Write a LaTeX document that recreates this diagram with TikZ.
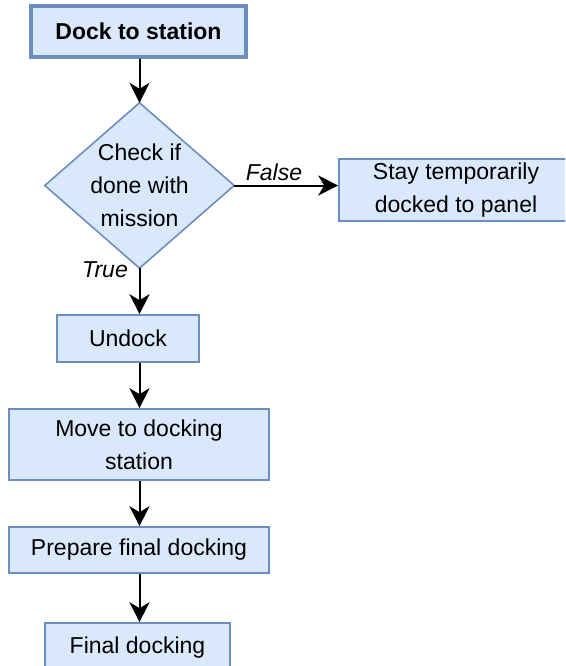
\documentclass[tikz,border=0pt]{standalone}
\usepackage{fontspec}
\setmainfont{Liberation Sans}
\usetikzlibrary{arrows.meta,backgrounds}
\definecolor{boxfill}{HTML}{DAE8FC}
\definecolor{boxline}{HTML}{6C8EBF}
\tikzset{
  box/.style={draw=boxline, fill=boxfill, line width=1.6pt, inner sep=0pt,
    align=center, font={\fontsize{23}{33}\selectfont}, text=black},
  startbox/.style={box, line width=3.2pt},
  flow/.style={line width=2pt, -{Stealth[length=20pt,width=20pt,inset=6pt]}},
  lbl/.style={font={\fontsize{23}{28}\selectfont\itshape}, inner sep=0pt}
}
\begin{document}
\begin{tikzpicture}[x=1pt,y=-1pt]
\useasboundingbox (0,0) rectangle (565,666);
\clip (0,0) rectangle (565,666);
\node[startbox, minimum width=215pt, minimum height=51pt] (dock) at (138.5,31.5) {\bfseries Dock to station};
\node[inner sep=0pt, minimum width=189pt, minimum height=165pt, align=center,
      font={\fontsize{23}{33}\selectfont}] (chk) at (139.5,185.5) {Check if\\done with\\mission};
\begin{scope}[on background layer]
\draw[draw=boxline, fill=boxfill, line width=1.6pt, line join=miter]
  (chk.north) -- (chk.east) -- (chk.south) -- (chk.west) -- cycle;
\end{scope}
\node[box, minimum width=234pt, minimum height=62pt] (stay) at (456,190) {Stay temporarily\\docked to panel};
\node[box, minimum width=142pt, minimum height=47pt] (undock) at (128,338.5) {Undock};
\node[box, minimum width=260pt, minimum height=71pt] (move) at (139,444.5) {Move to docking\\station};
\node[box, minimum width=260pt, minimum height=46pt] (prep) at (139,550) {Prepare final docking};
\node[box, minimum width=185pt, minimum height=50pt] (final) at (137.5,648) {Final docking};
\node[lbl] (lf) at (274,172) {False};
\node[lbl] (lt) at (105,270) {True};
\draw[flow] (dock.south -| chk.north) -- (chk.north);
\draw[flow] (chk.east) -- (chk.east -| stay.west);
\draw[flow] (chk.south) -- (chk.south |- undock.north);
\draw[flow] (chk.south |- undock.south) -- (chk.south |- move.north);
\draw[flow] (chk.south |- move.south) -- (chk.south |- prep.north);
\draw[flow] (chk.south |- prep.south) -- (chk.south |- final.north);
\end{tikzpicture}
\end{document}
